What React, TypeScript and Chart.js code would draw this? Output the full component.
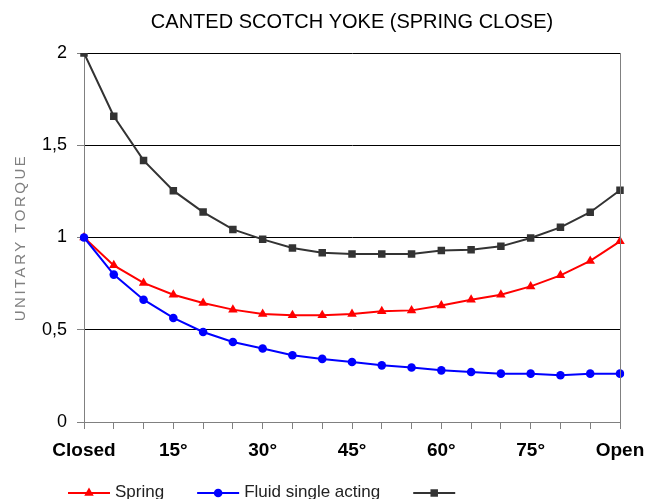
import { useEffect, useRef } from 'react';
import { Chart, registerables } from 'chart.js';

Chart.register(...registerables);

const chartTitle = 'CANTED SCOTCH YOKE (SPRING CLOSE)';
const yAxisTitle = 'UNITARY TORQUE';
const categories = ['Closed', '5°', '10°', '15°', '20°', '25°', '30°', '35°', '40°', '45°', '50°', '55°', '60°', '65°', '70°', '75°', '80°', '85°', 'Open'];
const labelEvery = 3;
const springValues = [1.0, 0.849, 0.754, 0.69, 0.645, 0.609, 0.585, 0.578, 0.578, 0.585, 0.6, 0.605, 0.632, 0.663, 0.69, 0.735, 0.795, 0.873, 0.979];
const fluidValues = [1.0, 0.799, 0.663, 0.564, 0.488, 0.434, 0.398, 0.362, 0.342, 0.325, 0.307, 0.295, 0.28, 0.271, 0.262, 0.262, 0.253, 0.262, 0.262];
const thirdValues = [2.0, 1.657, 1.418, 1.254, 1.138, 1.044, 0.99, 0.943, 0.918, 0.911, 0.911, 0.911, 0.929, 0.934, 0.952, 0.997, 1.055, 1.137, 1.256];
const seriesLabels = ['Spring', 'Fluid single acting', ''];
const yMin = 0;
const yMax = 2;
const yStep = 0.5;

const FONT = "'Liberation Sans', Arial, sans-serif";
const GRAY = '#808080';
const CANVAS_W = 639;
const CANVAS_H = 491;

function drawMarker(ctx: CanvasRenderingContext2D, style: string, x: number, y: number, r: number, color: string) {
  ctx.save();
  ctx.fillStyle = color;
  ctx.beginPath();
  if (style === 'triangle') {
    ctx.moveTo(x, y - r);
    ctx.lineTo(x + r * 0.866, y + r / 2);
    ctx.lineTo(x - r * 0.866, y + r / 2);
    ctx.closePath();
  } else if (style === 'circle') {
    ctx.arc(x, y, r, 0, Math.PI * 2);
  } else {
    const s = r * Math.SQRT1_2;
    ctx.rect(x - s, y - s, 2 * s, 2 * s);
  }
  ctx.fill();
  ctx.restore();
}

const decorPlugin = {
  id: 'decor',
  afterDraw(chart: any) {
    const { ctx, chartArea } = chart;
    const { left, right, top, bottom } = chartArea;
    ctx.save();
    // right border
    ctx.strokeStyle = GRAY;
    ctx.lineWidth = 1;
    ctx.beginPath();
    ctx.moveTo(Math.round(right) + 0.5, top);
    ctx.lineTo(Math.round(right) + 0.5, bottom);
    ctx.stroke();

    // y axis title
    ctx.save();
    ctx.translate(12.5, (top + bottom) / 2);
    ctx.rotate(-Math.PI / 2);
    ctx.font = `15px ${FONT}`;
    (ctx as any).letterSpacing = '2.5px';
    ctx.fillStyle = GRAY;
    ctx.textAlign = 'center';
    ctx.textBaseline = 'middle';
    ctx.fillText(yAxisTitle, 0, 0);
    ctx.restore();

    // legend
    let x = left - 16;
    const ly = 485;
    ctx.font = `17px ${FONT}`;
    ctx.textBaseline = 'alphabetic';
    ctx.textAlign = 'left';
    chart.data.datasets.forEach((ds: any) => {
      ctx.strokeStyle = ds.borderColor;
      ctx.lineWidth = 2;
      ctx.beginPath();
      ctx.moveTo(x, ly);
      ctx.lineTo(x + 42, ly);
      ctx.stroke();
      drawMarker(ctx, ds.pointStyle, x + 21, ly, ds.pointRadius, ds.pointBackgroundColor);
      x += 47;
      ctx.fillStyle = '#222';
      ctx.fillText(ds.label, x, ly + 4);
      x += ctx.measureText(ds.label).width + 33;
    });
    ctx.restore();
  },
};

export default function App() {
  const ref = useRef<HTMLCanvasElement | null>(null);
  useEffect(() => {
    if (!ref.current) return;
    const chart = new Chart(ref.current, {
      type: 'line',
      data: {
        labels: categories,
        datasets: [
          {
            label: seriesLabels[0],
            data: springValues,
            borderColor: '#ff0000',
            backgroundColor: '#ff0000',
            pointBackgroundColor: '#ff0000',
            pointBorderColor: '#ff0000',
            pointBorderWidth: 0,
            pointStyle: 'triangle',
            pointRadius: 5.5,
            borderWidth: 2,
            tension: 0,
            order: 1,
          },
          {
            label: seriesLabels[1],
            data: fluidValues,
            borderColor: '#0000ff',
            backgroundColor: '#0000ff',
            pointBackgroundColor: '#0000ff',
            pointBorderColor: '#0000ff',
            pointBorderWidth: 0,
            pointStyle: 'circle',
            pointRadius: 4.3,
            borderWidth: 2,
            tension: 0,
            order: 0,
          },
          {
            label: seriesLabels[2],
            data: thirdValues,
            borderColor: '#333333',
            backgroundColor: '#333333',
            pointBackgroundColor: '#333333',
            pointBorderColor: '#333333',
            pointBorderWidth: 0,
            pointStyle: 'rect',
            pointRadius: 5.3,
            borderWidth: 2,
            tension: 0,
            order: 2,
          },
        ],
      } as any,
      options: {
        animation: false,
        responsive: false,
        maintainAspectRatio: false,
        layout: { padding: { left: 0, right: 27, top: 0, bottom: 36 } },
        plugins: {
          legend: { display: false },
          tooltip: { enabled: false },
          title: {
            display: true,
            text: chartTitle,
            fullSize: false,
            color: '#000',
            font: { family: FONT, size: 20, weight: 'normal' },
            padding: { top: 2, bottom: 19 },
          },
        },
        scales: {
          x: {
            type: 'category',
            offset: false,
            afterFit: (s: any) => { s.height = 41; s.paddingRight = 0; },
            afterUpdate: (s: any) => { s.paddingRight = 0; },
            grid: { drawOnChartArea: false, drawTicks: true, tickLength: 7, tickColor: GRAY },
            border: { color: GRAY, width: 1 },
            ticks: {
              autoSkip: false,
              maxRotation: 0,
              padding: 10,
              color: '#000',
              font: { family: FONT, size: 19, weight: 'bold' },
              callback: (_v: any, i: number) => (i % labelEvery === 0 ? categories[i] : ''),
            },
          },
          y: {
            min: yMin,
            max: yMax,
            afterFit: (s: any) => { s.width = 76; },
            grid: {
              color: (c: any) => (c.tick && c.tick.value === 0 ? GRAY : '#000'),
              tickColor: GRAY,
              tickLength: 7,
            },
            border: { color: GRAY, width: 1 },
            ticks: {
              stepSize: yStep,
              padding: 10,
              color: '#000',
              font: { family: FONT, size: 18 },
              callback: (v: any) => String(v).replace('.', ','),
            },
          },
        },
      },
      plugins: [decorPlugin],
    });
    return () => chart.destroy();
  }, []);
  return (
    <div style={{ position: 'fixed', left: 8, top: 8, width: CANVAS_W, height: CANVAS_H }}>
      <canvas ref={ref} width={CANVAS_W} height={CANVAS_H} style={{ display: 'block', width: CANVAS_W, height: CANVAS_H }} />
    </div>
  );
}
